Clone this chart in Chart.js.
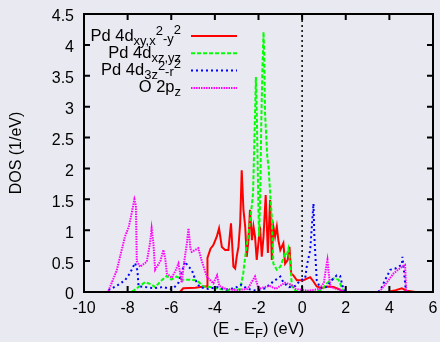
<!DOCTYPE html>
<html>
<head>
<meta charset="utf-8">
<script src="https://cdn.jsdelivr.net/npm/chart.js@4"></script>
<style>
html, body { margin: 0; padding: 0; background: #e9e9f1; }
</style>
</head>
<body>
<canvas id="chart" width="440" height="342"></canvas>
<script>
// DOS curves (energy in eV, DOS in 1/eV)
const redX = [-10, -5.6, -5.45, -4.9, -4.5, -4.36, -4.34, -4.2, -4.07, -3.91, -3.81, -3.68, -3.53, -3.38, -3.26, -3.15, -3.07, -3.0, -2.92, -2.84, -2.77, -2.69, -2.61, -2.54, -2.46, -2.39, -2.3, -2.23, -2.16, -2.08, -1.93, -1.85, -1.77, -1.67, -1.57, -1.47, -1.39, -1.32, -1.24, -1.16, -1.09, -1.0, -0.86, -0.78, -0.66, -0.58, -0.5, -0.4, -0.24, 0.06, 0.37, 0.52, 0.67, 0.9, 1.13, 1.44, 1.74, 1.9, 3.9, 4.3, 4.57, 4.8, 5.2, 6];
const redY = [0, 0, 0.06, 0.07, 0.09, 0.09, 0.55, 0.7, 0.76, 0.9, 1.03, 0.73, 0.68, 0.68, 1.11, 0.41, 0.38, 0.57, 0.73, 1.11, 1.97, 1.33, 1.06, 0.57, 0.84, 1.33, 0.84, 1.06, 0.9, 0.52, 1.06, 0.57, 0.9, 1.57, 0.63, 1.49, 0.52, 1.06, 0.9, 1.06, 0.84, 0.68, 0.79, 0.46, 0.52, 0.73, 0.3, 0.27, 0.19, 0.19, 0.24, 0.17, 0.09, 0.06, 0.09, 0.08, 0.04, 0, 0, 0.03, 0.06, 0.02, 0, 0];

const greenX = [-10, -7.9, -7.73, -7.5, -7.2, -6.9, -6.74, -6.44, -6.21, -6.0, -5.75, -5.5, -5.21, -4.83, -4.53, -4.22, -3.8, -3.46, -3.1, -2.84, -2.7, -2.61, -2.46, -2.35, -2.25, -2.2, -2.15, -2.12, -2.08, -2.05, -2.0, -1.97, -1.92, -1.87, -1.82, -1.77, -1.74, -1.7, -1.6, -1.54, -1.45, -1.39, -1.32, -1.16, -1.0, -0.78, -0.7, -0.63, -0.55, -0.47, -0.3, 0.5, 0.9, 1.13, 1.44, 1.67, 1.9, 6];
const greenY = [0, 0, 0.02, 0.08, 0.16, 0.12, 0.08, 0.19, 0.26, 0.2, 0.25, 0.2, 0.2, 0.19, 0.09, 0.08, 0.05, 0.03, 0.05, 0.04, 0.3, 0.57, 0.95, 1.25, 1.6, 2.3, 3.0, 3.48, 2.9, 2.3, 1.3, 0.9, 1.6, 2.8, 3.6, 4.21, 3.9, 2.9, 2.2, 2.03, 1.5, 1.22, 0.46, 0.36, 0.41, 0.62, 0.6, 0.7, 0.5, 0.09, 0.02, 0, 0.03, 0.14, 0.22, 0.2, 0, 0];

const blueX = [-10, -9.0, -8.88, -8.5, -8.12, -7.9, -7.66, -7.55, -7.5, -7.2, -6.82, -6.4, -6.0, -5.9, -5.67, -5.45, -5.37, -5.21, -5.06, -4.9, -4.7, -4.3, -3.9, -3.5, -3.1, -2.8, -2.5, -2.1, -1.7, -1.32, -1.0, -0.85, -0.6, -0.3, -0.09, 0.14, 0.21, 0.37, 0.52, 0.56, 0.67, 0.83, 1.1, 1.36, 1.59, 1.74, 1.9, 2.1, 3.4, 3.58, 3.73, 4.04, 4.27, 4.57, 4.6, 4.68, 4.76, 6];
const blueY = [0, 0, 0.03, 0.1, 0.19, 0.3, 0.47, 0.35, 0.09, 0.08, 0.06, 0.08, 0.05, 0.06, 0.15, 0.4, 0.49, 0.41, 0.36, 0.2, 0.08, 0.05, 0.08, 0.04, 0.06, 0.12, 0.05, 0.02, 0.06, 0.17, 0.25, 0.15, 0.08, 0.1, 0.19, 0.22, 0.41, 0.68, 1.43, 0.9, 0.19, 0.06, 0.08, 0.19, 0.27, 0.26, 0.03, 0, 0, 0.02, 0.14, 0.36, 0.38, 0.44, 0.57, 0.3, 0, 0];

const magentaX = [-10, -8.9, -8.5, -8.12, -7.95, -7.8, -7.69, -7.62, -7.58, -7.43, -7.2, -7.12, -6.97, -6.9, -6.82, -6.74, -6.5, -6.36, -6.28, -6.2, -5.98, -5.8, -5.67, -5.52, -5.4, -5.28, -5.21, -5.12, -5.06, -4.76, -4.6, -4.37, -4.07, -3.9, -3.8, -3.5, -3.0, -2.5, -2.16, -2.0, -1.5, -1.2, -0.8, -0.5, -0.3, 0.3, 0.8, 1.0, 1.1, 1.16, 1.22, 1.3, 1.6, 2.0, 3.5, 3.58, 3.96, 4.19, 4.57, 4.72, 4.77, 6];
const magentaY = [0, 0, 0.35, 0.9, 1.05, 1.3, 1.5, 1.4, 0.5, 0.41, 0.47, 0.49, 0.8, 1.03, 0.8, 0.36, 0.5, 0.68, 0.55, 0.3, 0.23, 0.35, 0.46, 0.15, 0.5, 0.8, 1.03, 0.7, 0.65, 0.71, 0.5, 0.25, 0.14, 0.27, 0.1, 0.05, 0.03, 0.05, 0.25, 0.05, 0.1, 0.05, 0.15, 0.12, 0.05, 0.02, 0.05, 0.15, 0.4, 0.52, 0.3, 0.08, 0.05, 0, 0, 0.02, 0.19, 0.3, 0.41, 0.44, 0, 0];

// Fermi level marker
const fermiX = [0, 0];
const fermiY = [0, 4.5];

const xTicks = [-10, -8, -6, -4, -2, 0, 2, 4, 6];
const yTicks = [0, 0.5, 1, 1.5, 2, 2.5, 3, 3.5, 4, 4.5];

// legend labels as [text, baseline shift]; shift 0 = normal size, otherwise small
const legendNames = [
    [['Pd 4d', 0], ['xy,x', 4], ['2', -6], ['-y', 2], ['2', -7]],
    [['Pd 4d', 0], ['xz,yz', 4]],
    [['Pd 4d', 0], ['3z', 4], ['2', -5], ['-r', 1], ['2', -7]],
    [['O 2p', 0], ['z', 4]]
];
const xTitle = [['(E - E', 0], ['F', 4], [') (eV)', 0]];

const FONT = "'Liberation Sans', Arial, sans-serif";

function pts(xs, ys) {
    return xs.map((x, i) => ({ x: x, y: ys[i] }));
}

function setFont(ctx, shift) {
    ctx.font = (shift === 0 ? 16.5 : 13) + 'px ' + FONT;
}

function richWidth(ctx, segs) {
    let w = 0;
    segs.forEach(s => {
        setFont(ctx, s[1]);
        w += ctx.measureText(s[0]).width;
    });
    return w;
}

function drawRich(ctx, segs, x, baseY) {
    segs.forEach(s => {
        setFont(ctx, s[1]);
        ctx.fillText(s[0], x, baseY + s[1]);
        x += ctx.measureText(s[0]).width;
    });
}

const bgPlugin = {
    id: 'bg',
    beforeDraw(chart) {
        const ctx = chart.ctx;
        ctx.save();
        ctx.fillStyle = '#e9e9f1';
        ctx.fillRect(0, 0, chart.width, chart.height);
        ctx.restore();
    }
};

const framePlugin = {
    id: 'frame',
    afterDatasetsDraw(chart) {
        const ctx = chart.ctx;
        const a = chart.chartArea;
        const xs = chart.scales.x, ys = chart.scales.y;
        ctx.save();
        ctx.strokeStyle = '#000';
        ctx.lineWidth = 2;
        ctx.setLineDash([]);
        ctx.strokeRect(a.left, a.top, a.right - a.left, a.bottom - a.top);
        // inward ticks on all four sides
        ctx.beginPath();
        xTicks.forEach(v => {
            const px = xs.getPixelForValue(v);
            ctx.moveTo(px, a.bottom); ctx.lineTo(px, a.bottom - 6);
            ctx.moveTo(px, a.top); ctx.lineTo(px, a.top + 6);
        });
        yTicks.forEach(v => {
            const py = ys.getPixelForValue(v);
            ctx.moveTo(a.left, py); ctx.lineTo(a.left + 6, py);
            ctx.moveTo(a.right, py); ctx.lineTo(a.right - 6, py);
        });
        ctx.stroke();

        // legend, gnuplot style: right aligned text then a line sample
        ctx.fillStyle = '#000';
        ctx.textBaseline = 'alphabetic';
        ctx.textAlign = 'left';
        legendNames.forEach((segs, i) => {
            const ds = chart.data.datasets[i];
            const ly = a.top + 22 + i * 17.3;
            const tx = a.left + 97 - richWidth(ctx, segs);
            drawRich(ctx, segs, tx, ly + 4.5);
            ctx.strokeStyle = ds.borderColor;
            ctx.lineWidth = ds.borderWidth;
            ctx.setLineDash(ds.borderDash || []);
            ctx.beginPath();
            ctx.moveTo(a.left + 107, ly);
            ctx.lineTo(a.left + 153, ly);
            ctx.stroke();
        });

        // x axis title with subscript
        ctx.setLineDash([]);
        const tw = richWidth(ctx, xTitle);
        drawRich(ctx, xTitle, (a.left + a.right) / 2 - tw / 2, 334);
        ctx.restore();
    }
};

new Chart(document.getElementById('chart'), {
    type: 'scatter',
    data: {
        datasets: [{
            data: pts(redX, redY),
            borderColor: '#ff0000',
            borderWidth: 2,
            order: 4
        }, {
            data: pts(greenX, greenY),
            borderColor: '#00ff00',
            borderWidth: 2,
            borderDash: [4, 2],
            order: 3
        }, {
            data: pts(blueX, blueY),
            borderColor: '#0000ff',
            borderWidth: 2,
            borderDash: [2, 3],
            order: 2
        }, {
            data: pts(magentaX, magentaY),
            borderColor: '#ff00ff',
            borderWidth: 2,
            borderDash: [1.5, 1],
            order: 1
        }, {
            data: pts(fermiX, fermiY),
            borderColor: '#000000',
            borderWidth: 1.5,
            borderDash: [2, 3],
            order: 5
        }]
    },
    options: {
        responsive: false,
        animation: false,
        showLine: true,
        elements: {
            point: { radius: 0, hoverRadius: 0 },
            line: { tension: 0, fill: false }
        },
        layout: { padding: { left: 0, right: 7, top: 14, bottom: 0 } },
        plugins: {
            legend: { display: false },
            tooltip: { enabled: false }
        },
        scales: {
            x: {
                type: 'linear',
                min: -10,
                max: 6,
                afterFit: s => { s.height = 50; s.paddingLeft = 0; s.paddingRight = 0; },
                afterBuildTicks: s => { s.ticks = xTicks.map(v => ({ value: v })); },
                grid: { display: false, drawTicks: false },
                border: { display: false },
                ticks: {
                    color: '#000',
                    padding: 7,
                    maxRotation: 0,
                    callback: v => String(v),
                    font: { family: FONT, size: 16 }
                }
            },
            y: {
                min: 0,
                max: 4.5,
                afterFit: s => { s.width = 84; s.paddingTop = 0; s.paddingBottom = 0; },
                afterBuildTicks: s => { s.ticks = yTicks.map(v => ({ value: v })); },
                grid: { display: false, drawTicks: false },
                border: { display: false },
                title: {
                    display: true,
                    text: 'DOS (1/eV)',
                    color: '#000',
                    padding: { top: 7, bottom: 0 },
                    font: { family: FONT, size: 16 }
                },
                ticks: {
                    color: '#000',
                    padding: 10,
                    labelOffset: 3,
                    callback: v => String(v),
                    font: { family: FONT, size: 16 }
                }
            }
        }
    },
    plugins: [bgPlugin, framePlugin]
});
</script>
</body>
</html>
